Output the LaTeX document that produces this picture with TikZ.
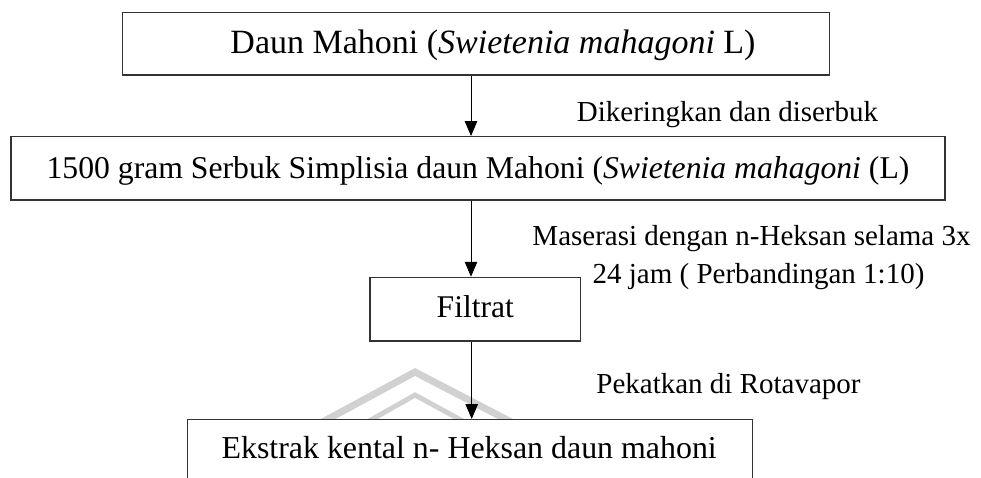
\documentclass[tikz,border=0pt]{standalone}
\usepackage{fontspec}
\setmainfont{Liberation Serif}
\usetikzlibrary{arrows.meta}
\begin{document}
\begin{tikzpicture}[x=1pt,y=-1pt,
  box/.style={draw=black!80,line width=1.2pt,fill=white,rectangle,inner sep=0pt},
  txt/.style={inner sep=0pt,anchor=base},
  lbl/.style={inner sep=0pt,anchor=base,font=\fontsize{29}{34}\selectfont},
  arr/.style={line width=1pt,-{Triangle[length=15pt,width=12.5pt]}},
  wm/.style={draw=black!18,line cap=butt,line join=miter}]
\useasboundingbox (0,0) rectangle (981,477);
% watermark
\draw[wm,line width=7pt] (317,425) -- (415,372) -- (517,425);
\draw[wm,line width=5pt] (362,425) -- (415,395) -- (470,425);
% boxes
\node[box,minimum width=707pt,minimum height=62.5pt] (b1) at (476,43.75) {};
\node[box,minimum width=934pt,minimum height=63.3pt] (b2) at (478,168.3) {};
\node[box,minimum width=210.7pt,minimum height=63.7pt] (b3) at (475.3,309.2) {};
\node[box,minimum width=565pt,minimum height=80pt,anchor=north] (b4) at (469.8,419) {};
% box texts
\node[txt,font=\fontsize{34}{40}\selectfont] (t1) at (493,53.3)
  {Daun Mahoni (\textit{Swietenia mahagoni} L)};
\node[txt,font=\fontsize{31.7}{38}\selectfont] (t2) at (478,178.3)
  {1500 gram Serbuk Simplisia daun Mahoni (\textit{Swietenia mahagoni} (L)};
\node[txt,font=\fontsize{31.6}{38}\selectfont] (t3) at (475.3,317)
  {Filtrat};
\node[txt,font=\fontsize{31.9}{38}\selectfont] (t4) at (469.2,458)
  {Ekstrak kental n- Heksan daun mahoni};
% arrow positions
\coordinate (ax) at (471,0);
\coordinate (ax3) at (471.7,0);
\draw[arr] (b1.south -| ax) -- (b2.north -| ax);
\draw[arr] (b2.south -| ax) -- (b3.north -| ax);
\draw[arr] (b3.south -| ax3) -- (b4.north -| ax3);
% labels
\node[lbl] (l1) at (727.5,121.7) {Dikeringkan dan diserbuk};
\node[lbl] (l2a) at (751.5,245.7) {Maserasi dengan n-Heksan selama 3x};
\node[lbl] (l2b) at (758.5,283) {24 jam ( Perbandingan 1:10)};
\node[lbl] (l3) at (728.5,393) {Pekatkan di Rotavapor};
\end{tikzpicture}
\end{document}
